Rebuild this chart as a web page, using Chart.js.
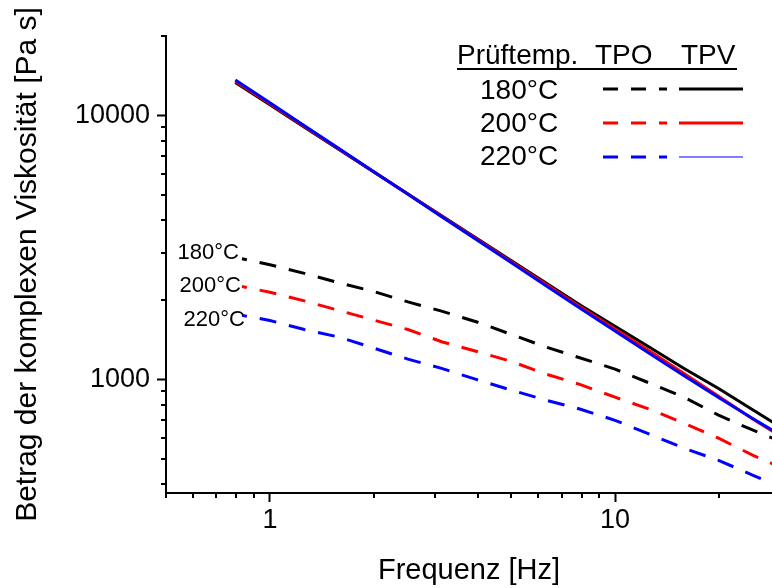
<!DOCTYPE html>
<html lang="de">
<head>
<meta charset="UTF-8">
<title>Komplexe Viskosität TPO / TPV</title>
<script src="https://cdn.jsdelivr.net/npm/chart.js"></script>
<style>
  html, body { margin: 0; padding: 0; background: #fff; overflow: hidden; }
  #wrap { width: 772px; height: 588px; }
</style>
</head>
<body>
<div id="wrap"><canvas id="viscChart" width="772" height="588"></canvas></div>
<script>
// Frequenzen [Hz]
var freq = [0.794, 1, 1.259, 1.585, 1.995, 2.512, 3.162, 3.981, 5.012, 6.31, 7.943, 10, 12.59, 15.85, 19.95, 25.12, 31.62];
var freqTPO = [0.83, 1, 1.259, 1.585, 1.995, 2.512, 3.162, 3.981, 5.012, 6.31, 7.943, 10, 12.59, 15.85, 19.95, 25.12, 31.62];

// TPV (durchgezogen)
var tpv180 = [13315, 10963, 9027, 7431, 6119, 5039, 4149, 3416, 2812, 2315, 1906, 1586, 1320, 1098, 921, 764, 634];
var tpv200 = [13460, 11060, 9080, 7455, 6125, 5030, 4130, 3390, 2785, 2290, 1878, 1550, 1278, 1050, 862, 705, 585];
var tpv220 = [13620, 11156, 9138, 7483, 6131, 5022, 4113, 3369, 2761, 2262, 1851, 1521, 1250, 1029, 851, 707, 591];

// TPO (gestrichelt)
var tpo180 = [2860, 2714, 2518, 2317, 2151, 1963, 1806, 1647, 1476, 1323, 1202, 1091, 966, 854, 730, 640, 566];
var tpo200 = [2245, 2136, 1980, 1822, 1676, 1542, 1383, 1273, 1166, 1045, 953, 854, 769, 680, 597, 514, 451];
var tpo220 = [1745, 1669, 1542, 1444, 1312, 1191, 1096, 995, 908, 832, 769, 698, 618, 547, 492, 432, 378];

var temps = ["180°C", "200°C", "220°C"];

// Achsenteilung
var xTicks = [0.5, 0.6, 0.7, 0.8, 0.9, 1, 2, 3, 4, 5, 6, 7, 8, 9, 10, 20];
var xMajor = [1, 10];
var yTicks = [400, 500, 600, 700, 800, 900, 1000, 2000, 3000, 4000, 5000, 6000, 7000, 8000, 9000, 10000, 20000];
var yMajor = [1000, 10000];

var FONT = "'Liberation Sans', Arial, sans-serif";
var colors = ["#000000", "#ff0000", "#0000ff"];

function pairs(xs, ys) {
  return ys.map(function (y, i) { return { x: xs[i], y: y }; });
}

var datasets = [
  { data: pairs(freq, tpv180), borderColor: colors[0], borderWidth: 3, order: 3 },
  { data: pairs(freq, tpv200), borderColor: colors[1], borderWidth: 3, order: 2 },
  { data: pairs(freq, tpv220), borderColor: colors[2], borderWidth: 3, order: 1 },
  { data: pairs(freqTPO, tpo180), borderColor: colors[0], borderWidth: 3, borderDash: [17, 13], borderDashOffset: 12, order: 6 },
  { data: pairs(freqTPO, tpo200), borderColor: colors[1], borderWidth: 3, borderDash: [17, 13], borderDashOffset: 12, order: 5 },
  { data: pairs(freqTPO, tpo220), borderColor: colors[2], borderWidth: 3, borderDash: [17, 13], borderDashOffset: 12, order: 4 }
];
datasets.forEach(function (d) {
  d.pointRadius = 0;
  d.tension = 0;
  d.fill = false;
});

// kurze Nebenstriche an beiden Achsen
var minorTicks = {
  id: "minorTicks",
  afterDraw: function (chart) {
    var ctx = chart.ctx, area = chart.chartArea;
    var xs = chart.scales.x, ys = chart.scales.y;
    ctx.save();
    ctx.strokeStyle = "#000";
    ctx.lineWidth = 2;
    ctx.beginPath();
    xTicks.forEach(function (v) {
      if (xMajor.indexOf(v) >= 0) return;
      var px = Math.round(xs.getPixelForValue(v));
      ctx.moveTo(px, area.bottom);
      ctx.lineTo(px, area.bottom + 5);
    });
    yTicks.forEach(function (v) {
      if (yMajor.indexOf(v) >= 0) return;
      var py = Math.round(ys.getPixelForValue(v));
      ctx.moveTo(area.left, py);
      ctx.lineTo(area.left - 5, py);
    });
    ctx.stroke();
    ctx.restore();
  }
};

// Legende oben rechts und Beschriftung der TPO-Kurven
var annotations = {
  id: "annotations",
  afterDraw: function (chart) {
    var ctx = chart.ctx;
    ctx.save();
    ctx.fillStyle = "#000";
    ctx.textBaseline = "alphabetic";
    ctx.font = "28px " + FONT;
    ctx.textAlign = "left";
    ctx.fillText("Prüftemp.", 457, 64);
    ctx.fillText("TPO", 595, 64);
    ctx.fillText("TPV", 681, 64);
    ctx.fillRect(457, 68, 280, 2);

    var rowText = [99, 132, 165];
    var rowLine = [89, 123, 157];
    for (var i = 0; i < 3; i++) {
      ctx.fillStyle = "#000";
      ctx.fillText(temps[i], 480, rowText[i]);
      ctx.strokeStyle = colors[i];
      ctx.lineWidth = 3;
      ctx.setLineDash([15, 13]);
      ctx.beginPath();
      ctx.moveTo(603, rowLine[i]);
      ctx.lineTo(667, rowLine[i]);
      ctx.stroke();
      ctx.setLineDash([]);
      ctx.lineWidth = i === 2 ? 1 : 3;
      ctx.beginPath();
      ctx.moveTo(679, rowLine[i]);
      ctx.lineTo(743, rowLine[i]);
      ctx.stroke();
    }

    ctx.fillStyle = "#000";
    ctx.font = "22px " + FONT;
    ctx.textAlign = "right";
    ctx.fillText(temps[0], 239, 259);
    ctx.fillText(temps[1], 241, 292);
    ctx.fillText(temps[2], 245, 326);
    ctx.restore();
  }
};

var ctx = document.getElementById("viscChart").getContext("2d");
new Chart(ctx, {
  type: "line",
  data: { datasets: datasets },
  options: {
    responsive: false,
    animation: false,
    devicePixelRatio: 1,
    layout: { padding: { top: 36, right: 0, bottom: 0, left: 0 } },
    plugins: { legend: { display: false }, tooltip: { enabled: false } },
    scales: {
      x: {
        type: "logarithmic",
        position: "bottom",
        min: 0.5,
        max: 28.5,
        afterBuildTicks: function (s) {
          s.ticks = xTicks.map(function (v) { return { value: v }; });
        },
        afterFit: function (s) { s.height = 95; },
        ticks: {
          autoSkip: false,
          maxRotation: 0,
          padding: 2,
          color: "#000",
          font: { family: FONT, size: 27 },
          callback: function (v) { return xMajor.indexOf(v) >= 0 ? String(v) : ""; }
        },
        grid: {
          drawOnChartArea: false,
          drawTicks: true,
          tickLength: 9,
          tickWidth: 2,
          tickColor: function (c) {
            return c.tick && xMajor.indexOf(c.tick.value) >= 0 ? "#000" : "rgba(0,0,0,0)";
          }
        },
        border: { color: "#000", width: 2 },
        title: {
          display: true,
          text: "Frequenz [Hz]",
          color: "#000",
          font: { family: FONT, size: 29 },
          padding: { top: 0, bottom: 0 }
        }
      },
      y: {
        type: "logarithmic",
        position: "left",
        min: 370,
        max: 20000,
        afterBuildTicks: function (s) {
          s.ticks = yTicks.map(function (v) { return { value: v }; });
        },
        afterFit: function (s) { s.width = 166; },
        ticks: {
          autoSkip: false,
          padding: 7,
          color: "#000",
          font: { family: FONT, size: 27 },
          callback: function (v) { return yMajor.indexOf(v) >= 0 ? String(v) : ""; }
        },
        grid: {
          drawOnChartArea: false,
          drawTicks: true,
          tickLength: 9,
          tickWidth: 2,
          tickColor: function (c) {
            return c.tick && yMajor.indexOf(c.tick.value) >= 0 ? "#000" : "rgba(0,0,0,0)";
          }
        },
        border: { color: "#000", width: 2 },
        title: {
          display: true,
          text: "Betrag der komplexen Viskosität [Pa s]",
          color: "#000",
          font: { family: FONT, size: 30 },
          padding: { top: 10, bottom: 0 }
        }
      }
    }
  },
  plugins: [minorTicks, annotations]
});
</script>
</body>
</html>
